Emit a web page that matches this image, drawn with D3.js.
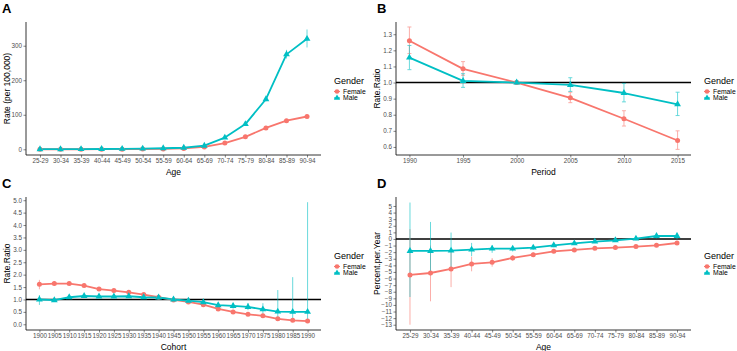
<!DOCTYPE html>
<html><head><meta charset="utf-8">
<script src="https://cdn.jsdelivr.net/npm/d3@7"></script>
<style>body{margin:0;background:#fff}svg{display:block;font-family:"Liberation Sans",Arial,sans-serif}</style>
</head><body><svg id="c" width="737" height="351"></svg>
<script>
// ---- Data ----
const ageGroups = ["25-29","30-34","35-39","40-44","45-49","50-54","55-59","60-64","65-69","70-74","75-79","80-84","85-89","90-94"];
const ageFemaleRate = [0.1,0.1,0.2,0.3,0.5,0.8,1.2,2.5,7,18,36,62,83,95];
const ageFemaleLo   = [0.05,0.05,0.1,0.2,0.4,0.7,1.0,2.2,6.3,16.8,34.3,59.5,79,89];
const ageFemaleHi   = [0.15,0.15,0.3,0.4,0.6,0.9,1.4,2.8,7.7,19.2,37.7,64.5,87,101];
const ageMaleRate = [0.3,0.4,0.6,0.9,1.3,2,3,4.5,10.5,34,73,145,275,320];
const ageMaleLo   = [0.2,0.3,0.5,0.8,1.1,1.8,2.7,4.0,9.6,32,69,139,263,295];
const ageMaleHi   = [0.4,0.5,0.7,1.0,1.5,2.2,3.3,5.0,11.4,36,77,151,288,347];

const periods = [1990,1995,2000,2005,2010,2015];
const periodFemale   = [1.26,1.085,1.0,0.905,0.775,0.64];
const periodFemaleLo = [1.18,1.045,1.0,0.875,0.73,0.585];
const periodFemaleHi = [1.345,1.13,1.0,0.94,0.825,0.70];
const periodMale   = [1.155,1.01,1.0,0.985,0.935,0.865];
const periodMaleLo = [1.08,0.97,0.99,0.945,0.88,0.795];
const periodMaleHi = [1.23,1.055,1.01,1.03,0.995,0.94];

const cohorts = [1900,1905,1910,1915,1920,1925,1930,1935,1940,1945,1950,1955,1960,1965,1970,1975,1980,1985,1990];
const cohortFemale   = [1.61,1.64,1.64,1.56,1.42,1.36,1.29,1.2,1.09,0.98,0.9,0.79,0.62,0.5,0.4,0.34,0.22,0.16,0.13];
const cohortFemaleLo = [1.41,1.55,1.57,1.5,1.37,1.31,1.25,1.16,1.06,0.96,0.87,0.75,0.58,0.46,0.36,0.29,0.17,0.11,0.07];
const cohortFemaleHi = [1.79,1.74,1.72,1.63,1.48,1.41,1.34,1.25,1.12,1.01,0.93,0.83,0.66,0.54,0.44,0.39,0.28,0.23,0.22];
const cohortMale   = [1.0,0.97,1.09,1.14,1.12,1.12,1.13,1.09,1.08,1.0,0.95,0.89,0.77,0.74,0.7,0.6,0.51,0.5,0.5];
const cohortMaleLo = [0.78,0.9,1.03,1.09,1.08,1.08,1.09,1.05,1.04,0.97,0.9,0.82,0.69,0.63,0.57,0.43,0.2,0.14,0.06];
const cohortMaleHi = [1.18,1.06,1.16,1.2,1.17,1.16,1.17,1.13,1.12,1.03,1.07,0.97,0.86,0.86,0.86,0.85,1.38,1.9,4.92];

const apcFemale   = [-5.46,-5.16,-4.55,-3.79,-3.54,-2.88,-2.38,-1.87,-1.67,-1.42,-1.31,-1.16,-0.96,-0.61];
const apcFemaleLo = [-13.0,-9.45,-7.3,-4.9,-4.2,-3.3,-2.7,-2.15,-1.9,-1.62,-1.5,-1.35,-1.17,-0.85];
const apcFemaleHi = [1.5,-1.0,-1.8,-2.7,-2.9,-2.45,-2.05,-1.6,-1.45,-1.22,-1.12,-0.97,-0.75,-0.37];
const apcMale   = [-1.82,-1.82,-1.77,-1.62,-1.47,-1.47,-1.31,-0.96,-0.66,-0.4,-0.2,0.05,0.45,0.45];
const apcMaleLo = [-8.8,-5.5,-4.5,-2.6,-2.1,-1.9,-1.65,-1.25,-0.9,-0.62,-0.42,-0.2,0.1,-0.05];
const apcMaleHi = [5.52,2.58,0.97,-0.6,-0.95,-1.05,-0.97,-0.68,-0.42,-0.18,0.02,0.3,0.8,0.95];

const genders = ["Female","Male"];
const colors = ["#F8766D","#00BFC4"];

const ticksA = [0,100,200,300];
const ticksB = [0.6,0.7,0.8,0.9,1.0,1.1,1.2,1.3];
const ticksC = [0,0.5,1,1.5,2,2.5,3,3.5,4,4.5,5];
const ticksD = d3.range(-13,6);

// ---- Layout ----
const svg = d3.select("#c");
const X0 = 26, X1 = 321, Y0 = 22, Y1 = 155;

function panel(opts){
  const g = svg.append("g").attr("transform",`translate(${opts.ox},${opts.oy})`);
  const x = opts.x, y = opts.y;
  // letter
  svg.append("text").attr("x",opts.lx).attr("y",opts.oy+13).text(opts.letter)
    .attr("font-size",13).attr("font-weight","bold").attr("fill","#000");
  // reference line
  if (opts.ref !== undefined){
    g.append("line").attr("x1",X0).attr("x2",X1).attr("y1",y(opts.ref)).attr("y2",y(opts.ref))
      .attr("stroke","#000").attr("stroke-width",1.5);
  }
  const series = opts.series;
  // error bars
  series.forEach((s,si)=>{
    const eg = g.append("g").attr("stroke",colors[si]).attr("stroke-width",0.9).attr("opacity",0.65);
    s.v.forEach((v,i)=>{
      const cx = x(opts.xs[i]);
      eg.append("line").attr("x1",cx).attr("x2",cx).attr("y1",y(s.lo[i])).attr("y2",y(s.hi[i]));
      if (opts.caps){
        [s.lo[i],s.hi[i]].forEach(b=>eg.append("line").attr("x1",cx-2).attr("x2",cx+2).attr("y1",y(b)).attr("y2",y(b)));
      }
    });
  });
  // lines
  series.forEach((s,si)=>{
    g.append("path").datum(s.v).attr("fill","none").attr("stroke",colors[si]).attr("stroke-width",1.8)
      .attr("stroke-linejoin","round")
      .attr("d", d3.line().x((d,i)=>x(opts.xs[i])).y(d=>y(d)));
  });
  // points
  series.forEach((s,si)=>{
    s.v.forEach((v,i)=>{
      const cx = x(opts.xs[i]), cy = y(v);
      if (si===0) g.append("circle").attr("cx",cx).attr("cy",cy).attr("r",2.5).attr("fill",colors[0]);
      else g.append("path").attr("d",d3.symbol(d3.symbolTriangle,20)()).attr("transform",`translate(${cx},${cy})`).attr("fill",colors[1]);
    });
  });
  // axes
  const ax = g.append("g").attr("transform",`translate(0,${Y1})`)
    .call(d3.axisBottom(x).tickValues(opts.xs).tickSize(2.5).tickPadding(1.5).tickSizeOuter(0).tickFormat(opts.xfmt||(d=>d)));
  ax.select(".domain").attr("d",`M${X0},0H${X1}`).attr("stroke","#000").attr("stroke-width",0.8);
  ax.selectAll(".tick line").attr("stroke","#333").attr("stroke-width",0.6);
  ax.selectAll(".tick text").attr("font-size",6.3).attr("fill","#4d4d4d").attr("font-family","Liberation Sans, Arial");
  const ay = g.append("g").attr("transform",`translate(${X0},0)`)
    .call(d3.axisLeft(y).tickValues(opts.yt).tickSize(2.5).tickPadding(1.5).tickSizeOuter(0).tickFormat(opts.yfmt));
  ay.select(".domain").attr("d",`M0,${Y0}V${Y1}`).attr("stroke","#000").attr("stroke-width",0.8);
  ay.selectAll(".tick line").attr("stroke","#333").attr("stroke-width",0.6);
  ay.selectAll(".tick text").attr("font-size",6.3).attr("fill","#4d4d4d").attr("font-family","Liberation Sans, Arial");
  // titles
  g.append("text").attr("x",(X0+X1)/2).attr("y",175).attr("text-anchor","middle").attr("font-size",8.5).attr("fill","#000").text(opts.xt);
  g.append("text").attr("transform",`translate(10,${(Y0+Y1)/2}) rotate(-90)`).attr("text-anchor","middle").attr("font-size",8.5).attr("fill","#000").text(opts.yt2);
  // legend
  const lg = g.append("g").attr("transform","translate(334,0)");
  lg.append("text").attr("x",0).attr("y",83.5).attr("font-size",9).attr("fill","#000").text("Gender");
  genders.forEach((gn,i)=>{
    const ky = 91.5 + i*6.5;
    lg.append("line").attr("x1",0).attr("x2",6).attr("y1",ky).attr("y2",ky).attr("stroke",colors[i]).attr("stroke-width",1.2);
    if (i===0) lg.append("circle").attr("cx",3).attr("cy",ky).attr("r",2.3).attr("fill",colors[0]);
    else lg.append("path").attr("d",d3.symbol(d3.symbolTriangle,17)()).attr("transform",`translate(3,${ky})`).attr("fill",colors[1]);
    lg.append("text").attr("x",9).attr("y",ky+2.3).attr("font-size",6.8).attr("fill","#000").text(gn);
  });
}

const xAge = d3.scalePoint().domain(ageGroups).range([X0,X1]).padding(0.68);

panel({ox:0, oy:0, lx:2, letter:"A", x:xAge, xs:ageGroups,
  y:d3.scaleLinear().domain([-16.5,368.7]).range([Y1,Y0]), yt:ticksA, yfmt:d3.format("d"),
  xt:"Age", yt2:"Rate (per 100,000)",
  series:[{v:ageFemaleRate,lo:ageFemaleLo,hi:ageFemaleHi},{v:ageMaleRate,lo:ageMaleLo,hi:ageMaleHi}]});

panel({ox:370, oy:0, lx:377, letter:"B", x:d3.scaleLinear().domain([1988.75,2016.25]).range([X0,X1]), xs:periods, caps:true,
  y:d3.scaleLinear().domain([0.55,1.376]).range([Y1,Y0]), yt:ticksB, yfmt:d3.format(".1f"), ref:1,
  xt:"Period", yt2:"Rate.Ratio",
  series:[{v:periodFemale,lo:periodFemaleLo,hi:periodFemaleHi},{v:periodMale,lo:periodMaleLo,hi:periodMaleHi}]});

panel({ox:0, oy:175, lx:2, letter:"C", x:d3.scaleLinear().domain([1895.5,1994.5]).range([X0,X1]), xs:cohorts,
  y:d3.scaleLinear().domain([-0.23,5.13]).range([Y1,Y0]), yt:ticksC, yfmt:d3.format(".1f"), ref:1,
  xt:"Cohort", yt2:"Rate.Ratio",
  series:[{v:cohortFemale,lo:cohortFemaleLo,hi:cohortFemaleHi},{v:cohortMale,lo:cohortMaleLo,hi:cohortMaleHi}]});

panel({ox:370, oy:175, lx:377, letter:"D", x:xAge, xs:ageGroups,
  y:d3.scaleLinear().domain([-13.8,6.36]).range([Y1,Y0]), yt:ticksD, yfmt:d3.format("d"), ref:0,
  xt:"Age", yt2:"Percent.per.Year",
  series:[{v:apcFemale,lo:apcFemaleLo,hi:apcFemaleHi},{v:apcMale,lo:apcMaleLo,hi:apcMaleHi}]});
</script></body></html>
